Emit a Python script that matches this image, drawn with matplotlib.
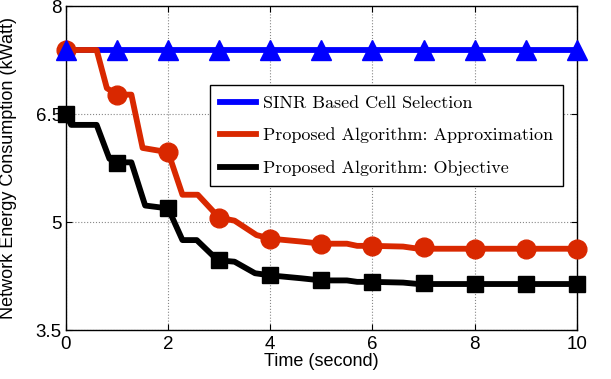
import matplotlib
matplotlib.use('Agg')
import matplotlib.pyplot as plt

# marker positions (one per second)
t_marks = [0, 1, 2, 3, 4, 5, 6, 7, 8, 9, 10]
sinr_marks = [7.39, 7.39, 7.39, 7.39, 7.39, 7.39, 7.39, 7.39, 7.39, 7.39, 7.39]
approx_marks = [7.39, 6.76, 5.97, 5.06, 4.77, 4.70, 4.67, 4.65, 4.63, 4.63, 4.63]
obj_marks = [6.50, 5.82, 5.19, 4.47, 4.26, 4.19, 4.17, 4.15, 4.14, 4.14, 4.14]

# curve shape
t_approx = [0, 0.6, 0.8, 1.0, 1.28, 1.5, 2.0, 2.28, 2.58, 3.0, 3.3, 3.73, 4.0, 4.6, 5.0, 5.5, 5.7,
            6.0, 6.6, 6.9, 10]
y_approx = [7.39, 7.39, 6.86, 6.77, 6.77, 6.03, 5.97, 5.38, 5.38, 5.06, 5.02, 4.82, 4.77, 4.73,
            4.70, 4.70, 4.67, 4.67, 4.66, 4.63, 4.63]
t_obj = [0, 0.1, 0.6, 0.85, 1.0, 1.28, 1.55, 2.0, 2.28, 2.56, 2.97, 3.3, 3.7, 4.0, 4.6, 5.0, 5.5,
         5.7, 6.0, 6.6, 6.9, 10]
y_obj = [6.50, 6.35, 6.35, 5.88, 5.83, 5.83, 5.23, 5.19, 4.75, 4.75, 4.47, 4.45, 4.29, 4.26, 4.22,
         4.19, 4.19, 4.17, 4.17, 4.16, 4.14, 4.14]

labels = ['SINR Based Cell Selection',
          'Proposed Algorithm: Approximation',
          'Proposed Algorithm: Objective']
blue = '#0000ff'
red = '#d92800'
black = '#000000'

plt.rcParams['font.family'] = ['Liberation Sans', 'DejaVu Sans']

fig = plt.figure(figsize=(6.11, 3.79), dpi=100)
ax = fig.add_axes([0.108, 0.129, 0.836, 0.855])

lw = 4.2
ax.plot(t_marks, sinr_marks, color=blue, lw=lw, label=labels[0], clip_on=False, zorder=3)
ax.plot(t_approx, y_approx, color=red, lw=lw, label=labels[1], solid_joinstyle='round',
        clip_on=False, zorder=3)
ax.plot(t_obj, y_obj, color=black, lw=lw, label=labels[2], solid_joinstyle='round',
        clip_on=False, zorder=3)

ax.plot(t_marks, approx_marks, 'o', color=red, ms=13.5, clip_on=False, zorder=4)
ax.plot(t_marks, obj_marks, 's', color=black, ms=11, clip_on=False, zorder=4)
ax.plot(t_marks, sinr_marks, '^', color=blue, ms=15, clip_on=False, zorder=5)

ax.set_xlim(0, 10)
ax.set_ylim(3.5, 8)
ax.set_xticks([0, 2, 4, 6, 8, 10])
ax.set_yticks([3.5, 5, 6.5, 8])
ax.set_yticklabels(['3.5', '5', '6.5', '8'])
ax.tick_params(direction='in', top=True, right=True, labelsize=13.5, length=4)
ax.tick_params(axis='x', pad=4)
ax.tick_params(axis='y', pad=3)
ax.grid(True, linestyle=':', color='#888888', linewidth=0.8)
for s in ax.spines.values():
    s.set_linewidth(1.0)

ax.set_xlabel('Time (second)', fontsize=13, labelpad=0)
ax.set_ylabel('Network Energy Consumption (kWatt)', fontsize=13)
ax.yaxis.set_label_coords(-0.095, 0.5)

leg = ax.legend(loc='upper left', bbox_to_anchor=(0.282, 0.755), fancybox=False,
                framealpha=1, edgecolor='black', prop={'family': 'cmr10', 'size': 13},
                handlelength=2.0, labelspacing=0.92, borderpad=0.55, handletextpad=0.4,
                borderaxespad=0)
leg.get_frame().set_linewidth(1.0)

plt.savefig('out.png', dpi=100)
